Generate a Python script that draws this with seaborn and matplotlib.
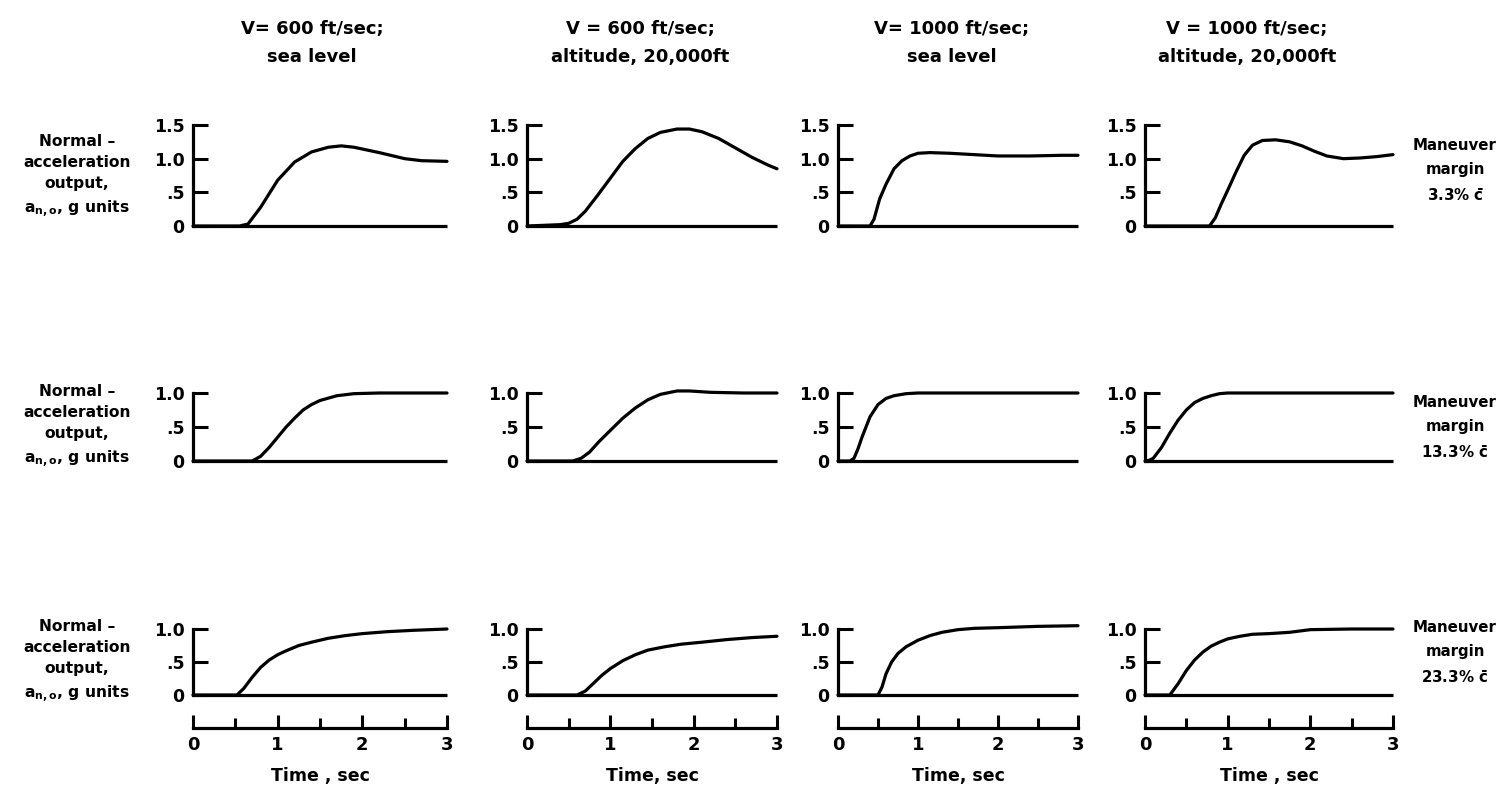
import numpy as np
import pandas as pd
import matplotlib
matplotlib.use("Agg")
import matplotlib.pyplot as plt
import seaborn as sns

# ---------------- data ----------------
col_titles = ["V= 600 ft/sec;\nsea level",
              "V = 600 ft/sec;\naltitude, 20,000ft",
              "V= 1000 ft/sec;\nsea level",
              "V = 1000 ft/sec;\naltitude, 20,000ft"]
row_label = "Normal \u2013\nacceleration\noutput,\na$_{\\mathbf{n,o}}$, g units"
margin_labels = ["Maneuver\nmargin\n3.3% $\\bar{\\mathbf{c}}$",
                 "Maneuver\nmargin\n13.3% $\\bar{\\mathbf{c}}$",
                 "Maneuver\nmargin\n23.3% $\\bar{\\mathbf{c}}$"]
time_labels = ["Time , sec", "Time, sec", "Time, sec", "Time , sec"]
x_ticks = [0, 1, 2, 3]
x_ticklabels = ["0", "1", "2", "3"]
x_minor = [0.5, 1.5, 2.5]
y_ticks_r1 = [0, 0.5, 1.0, 1.5]
y_ticklabels_r1 = ["0", ".5", "1.0", "1.5"]
y_ticks_r23 = [0, 0.5, 1.0]
y_ticklabels_r23 = ["0", ".5", "1.0"]

# Row 1: margin 3.3 %
r1c1_t = [0, 0.55, 0.65, 0.8, 1.0, 1.2, 1.4, 1.6, 1.75, 1.9, 2.2, 2.5, 2.7, 3.0]
r1c1_a = [0, 0, 0.03, 0.28, 0.68, 0.95, 1.1, 1.17, 1.19, 1.17, 1.09, 1.0, 0.97, 0.96]
r1c2_t = [0, 0.4, 0.5, 0.6, 0.7, 0.85, 1.0, 1.15, 1.3, 1.45, 1.6, 1.8, 1.95, 2.1, 2.3, 2.5, 2.7, 2.9, 3.0]
r1c2_a = [0, 0.02, 0.04, 0.1, 0.22, 0.46, 0.71, 0.96, 1.15, 1.3, 1.39, 1.44, 1.44, 1.4, 1.3, 1.16, 1.02, 0.9, 0.85]
r1c3_t = [0, 0.4, 0.45, 0.52, 0.6, 0.7, 0.8, 0.9, 1.0, 1.15, 1.4, 1.7, 2.0, 2.4, 2.8, 3.0]
r1c3_a = [0, 0, 0.1, 0.4, 0.62, 0.85, 0.97, 1.04, 1.08, 1.09, 1.08, 1.06, 1.04, 1.04, 1.05, 1.05]
r1c4_t = [0, 0.78, 0.85, 0.92, 1.0, 1.1, 1.2, 1.3, 1.42, 1.58, 1.75, 1.9, 2.05, 2.2, 2.4, 2.6, 2.8, 3.0]
r1c4_a = [0, 0, 0.12, 0.32, 0.53, 0.8, 1.05, 1.2, 1.27, 1.28, 1.25, 1.19, 1.11, 1.04, 1.0, 1.01, 1.03, 1.06]

# Row 2: margin 13.3 %
r2c1_t = [0, 0.7, 0.8, 0.9, 1.0, 1.1, 1.2, 1.3, 1.4, 1.5, 1.7, 1.9, 2.2, 3.0]
r2c1_a = [0, 0, 0.07, 0.2, 0.35, 0.5, 0.63, 0.75, 0.83, 0.89, 0.96, 0.99, 1.0, 1.0]
r2c2_t = [0, 0.55, 0.65, 0.75, 0.86, 1.0, 1.15, 1.3, 1.45, 1.6, 1.8, 1.95, 2.2, 2.6, 3.0]
r2c2_a = [0, 0, 0.04, 0.13, 0.28, 0.45, 0.63, 0.78, 0.9, 0.98, 1.03, 1.03, 1.01, 1.0, 1.0]
r2c3_t = [0, 0.15, 0.2, 0.25, 0.3, 0.4, 0.5, 0.6, 0.7, 0.85, 1.0, 1.5, 2.0, 3.0]
r2c3_a = [0, 0, 0.04, 0.18, 0.35, 0.65, 0.83, 0.92, 0.96, 0.99, 1.0, 1.0, 1.0, 1.0]
r2c4_t = [0, 0.05, 0.1, 0.2, 0.3, 0.4, 0.5, 0.6, 0.7, 0.8, 0.9, 1.0, 1.5, 2.0, 3.0]
r2c4_a = [0, 0.01, 0.04, 0.2, 0.41, 0.6, 0.75, 0.86, 0.92, 0.96, 0.99, 1.0, 1.0, 1.0, 1.0]

# Row 3: margin 23.3 %
r3c1_t = [0, 0.52, 0.6, 0.7, 0.8, 0.9, 1.0, 1.1, 1.25, 1.4, 1.6, 1.8, 2.0, 2.3, 2.6, 3.0]
r3c1_a = [0, 0, 0.1, 0.27, 0.42, 0.53, 0.61, 0.67, 0.75, 0.8, 0.86, 0.9, 0.93, 0.96, 0.98, 1.0]
r3c2_t = [0, 0.6, 0.7, 0.8, 0.9, 1.0, 1.15, 1.3, 1.45, 1.65, 1.85, 2.1, 2.4, 2.7, 3.0]
r3c2_a = [0, 0, 0.06, 0.18, 0.3, 0.4, 0.52, 0.61, 0.68, 0.73, 0.77, 0.8, 0.84, 0.87, 0.89]
r3c3_t = [0, 0.5, 0.55, 0.6, 0.67, 0.75, 0.85, 1.0, 1.15, 1.3, 1.5, 1.7, 2.0, 2.5, 3.0]
r3c3_a = [0, 0, 0.12, 0.32, 0.5, 0.63, 0.73, 0.83, 0.9, 0.95, 0.99, 1.01, 1.02, 1.04, 1.05]
r3c4_t = [0, 0.3, 0.4, 0.5, 0.6, 0.7, 0.8, 0.9, 1.0, 1.15, 1.3, 1.5, 1.75, 2.0, 2.5, 3.0]
r3c4_a = [0, 0, 0.17, 0.37, 0.53, 0.65, 0.74, 0.8, 0.85, 0.89, 0.92, 0.93, 0.95, 0.99, 1.0, 1.0]

panels = {
    (0, 0): (r1c1_t, r1c1_a), (0, 1): (r1c2_t, r1c2_a), (0, 2): (r1c3_t, r1c3_a), (0, 3): (r1c4_t, r1c4_a),
    (1, 0): (r2c1_t, r2c1_a), (1, 1): (r2c2_t, r2c2_a), (1, 2): (r2c3_t, r2c3_a), (1, 3): (r2c4_t, r2c4_a),
    (2, 0): (r3c1_t, r3c1_a), (2, 1): (r3c2_t, r3c2_a), (2, 2): (r3c3_t, r3c3_a), (2, 3): (r3c4_t, r3c4_a),
}
frames = [pd.DataFrame({"row": r, "col": c, "t": t, "a": a}) for (r, c), (t, a) in panels.items()]
df = pd.concat(frames, ignore_index=True)

# ---------------- style ----------------
sns.set_theme(style="white")
plt.rcParams["font.family"] = ["DejaVu Sans"]
plt.rcParams["font.weight"] = "bold"
plt.rcParams["mathtext.fontset"] = "dejavusans"
plt.rcParams["text.color"] = "black"
plt.rcParams["axes.labelcolor"] = "black"
plt.rcParams["xtick.color"] = "black"
plt.rcParams["ytick.color"] = "black"
plt.rcParams["axes.edgecolor"] = "black"

W, H = 1496, 794
fig = plt.figure(figsize=(W / 100, H / 100), dpi=100)
fig.patch.set_facecolor("white")

col_px = [(193, 447), (527, 777), (838, 1078), (1145, 1393)]
row_px = [(125, 226), (393, 461), (629, 695)]
row_top = [1.5, 1.0, 1.0]
LW = 2.3

for r in range(3):
    for c in range(4):
        x0, x1 = col_px[c]
        yt, yb = row_px[r]
        ax = fig.add_axes([x0 / W, (H - yb) / H, (x1 - x0) / W, (yb - yt) / H])
        ax.set_facecolor("none")
        sub = df[(df["row"] == r) & (df["col"] == c)]
        ax.axhline(0, color="black", lw=LW, clip_on=False, solid_capstyle="butt")
        sns.lineplot(data=sub, x="t", y="a", ax=ax, color="black", lw=LW,
                     estimator=None, sort=False)
        for ln in ax.lines:
            ln.set_clip_on(False)
            ln.set_solid_joinstyle("round")
        ax.set_xlim(0, 3)
        ax.set_ylim(0, row_top[r])
        ax.set_xlabel("")
        ax.set_ylabel("")
        for s in ["top", "right"]:
            ax.spines[s].set_visible(False)
        ax.spines["left"].set_linewidth(LW)
        if r == 0:
            ax.set_yticks(y_ticks_r1, y_ticklabels_r1)
        else:
            ax.set_yticks(y_ticks_r23, y_ticklabels_r23)
        ax.tick_params(axis="y", direction="in", length=11, width=2.2, pad=6,
                       labelsize=12.5, left=True)
        if r < 2:
            ax.spines["bottom"].set_visible(False)
            ax.set_xticks([])
        else:
            sp = ax.spines["bottom"]
            sp.set_position(("outward", 23.8))
            sp.set_linewidth(LW)
            ax.set_xticks(x_ticks, x_ticklabels)
            ax.set_xticks(x_minor, minor=True)
            ax.tick_params(axis="x", which="major", direction="in", length=9.5,
                           width=2.2, pad=6, labelsize=13, bottom=True)
            ax.tick_params(axis="x", which="minor", direction="in", length=7,
                           width=2.2, bottom=True)
            ax.set_xlabel(time_labels[c], fontsize=12.5, fontweight="bold",
                          labelpad=9, color="black")

# column titles
title_x = [312, 640, 952, 1247]
for c in range(4):
    fig.text(title_x[c] / W, 1 - 43 / H, col_titles[c], ha="center", va="center",
             fontsize=13, fontweight="bold", linespacing=1.75)

# left row labels
left_y = [177, 427, 662]
for r in range(3):
    fig.text(77 / W, 1 - left_y[r] / H, row_label, ha="center", va="center",
             fontsize=11.2, fontweight="bold", linespacing=1.5)

# right margin labels
right_y = [171, 428, 653]
for r in range(3):
    fig.text(1455 / W, 1 - right_y[r] / H, margin_labels[r], ha="center", va="center",
             fontsize=10.8, fontweight="bold", linespacing=1.75)

fig.savefig("out.png", dpi=100, facecolor="white")
